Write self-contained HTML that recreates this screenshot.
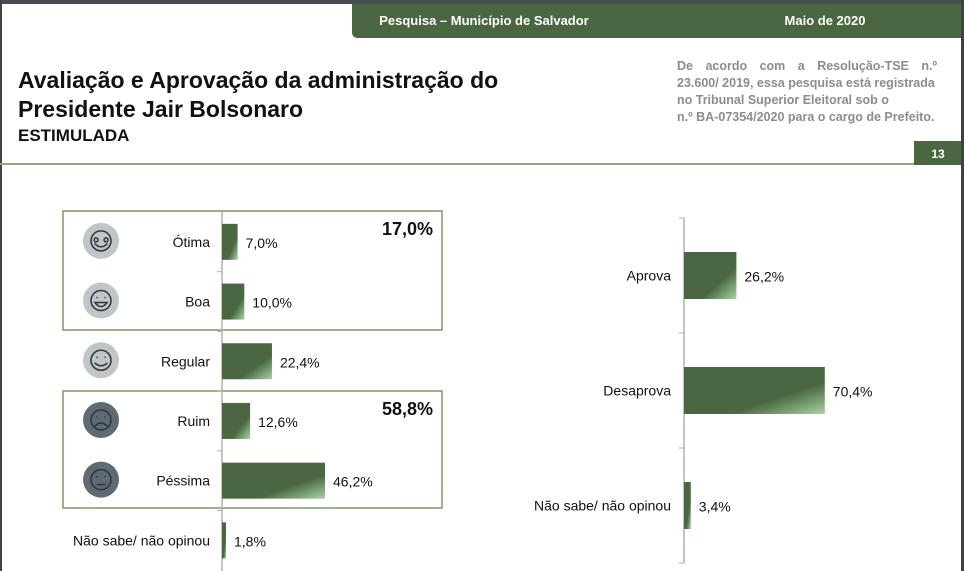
<!DOCTYPE html>
<html><head><meta charset="utf-8"><style>
html,body{margin:0;padding:0;background:#fff}
svg{display:block;font-family:"Liberation Sans",sans-serif}
</style></head><body>
<svg id="s" width="964" height="571" viewBox="0 0 964 571">
<defs>
<linearGradient id="g" x1="0" y1="0" x2="1" y2="1">
<stop offset="0" stop-color="#4a6741"/><stop offset="0.66" stop-color="#4a6741"/><stop offset="1" stop-color="#a8d3a2"/>
</linearGradient>
</defs>
<rect x="0" y="0" width="964" height="4" fill="#474c52"/>
<rect x="0" y="0" width="2" height="571" fill="#3c4248"/>
<rect x="961" y="0" width="3" height="571" fill="#3c4248"/>
<path d="M352 4 H961 V38 H358 Q352 38 352 32 Z" fill="#4a6741"/>
<text x="484" y="25" font-size="13" font-weight="bold" fill="#fff" text-anchor="middle">Pesquisa – Município de Salvador</text>
<text x="825" y="25" font-size="13" font-weight="bold" fill="#fff" text-anchor="middle">Maio de 2020</text>
<text x="18" y="88" font-size="23" font-weight="bold" fill="#111">Avaliação e Aprovação da administração do</text>
<text x="18" y="117" font-size="23" font-weight="bold" fill="#111">Presidente Jair Bolsonaro</text>
<text x="18" y="141" font-size="17" font-weight="bold" fill="#111">ESTIMULADA</text>
<g font-size="12.5" font-weight="bold" fill="#8c8c8c">
<text x="677" y="70" word-spacing="9">De acordo com a Resolução-TSE n.º</text>
<text x="677" y="87">23.600/ 2019, essa pesquisa está registrada</text>
<text x="677" y="104">no Tribunal Superior Eleitoral sob o</text>
<text x="677" y="121">n.º BA-07354/2020 para o cargo de Prefeito.</text>
</g>
<rect x="0" y="163" width="914" height="2" fill="#8fa47a"/>
<rect x="914" y="141" width="47" height="24" fill="#4a6741"/>
<text x="938" y="158" font-size="12" font-weight="bold" fill="#fff" text-anchor="middle">13</text>
<rect x="63" y="211" width="379" height="119" fill="none" stroke="#7a9a5c" stroke-width="1.5"/>
<rect x="63" y="391" width="379" height="117" fill="none" stroke="#7a9a5c" stroke-width="1.5"/>
<text x="433" y="235" font-size="18" font-weight="bold" fill="#111" text-anchor="end">17,0%</text>
<text x="433" y="415" font-size="18" font-weight="bold" fill="#111" text-anchor="end">58,8%</text>
<g id="left"></g>
<g id="right"></g>
</svg>
<script>
const leftCats=["Ótima","Boa","Regular","Ruim","Péssima","Não sabe/ não opinou"];
const leftVals=[7.0,10.0,22.4,12.6,46.2,1.8];
const leftLabels=["7,0%","10,0%","22,4%","12,6%","46,2%","1,8%"];
const rightCats=["Aprova","Desaprova","Não sabe/ não opinou"];
const rightVals=[26.2,70.4,3.4];
const rightLabels=["26,2%","70,4%","3,4%"];
const NS="http://www.w3.org/2000/svg";
function mk(p,t,a){const e=document.createElementNS(NS,t);for(const k in a)e.setAttribute(k,a[k]);p.appendChild(e);return e;}
const L=document.getElementById('left');
const lx0=222,lk=2.23,ly0=212,lstep=59.7,lbh=36;
const lxs=v=>lx0+v*lk, lyc=i=>ly0+lstep*(i+0.5);
let ax=mk(L,'line',{x1:lx0,y1:ly0,x2:lx0,y2:571,stroke:'#b0b0b0','stroke-width':1.5});


const faces=["M-5 -3 a2 2 0 1 0 .1 0 M5 -3 a2 2 0 1 0 .1 0 M-6 3 Q0 9 6 3","M-4 -3 h.1 M4 -3 h.1 M-6 2 Q0 10 6 2 Z","M-4 -3 h.1 M4 -3 h.1 M-6 3 Q0 8 6 3","M-4 -3 h.1 M4 -3 h.1 M-6 6 Q0 0 6 6","M-4 -3 h.1 M4 -3 h.1 M-4 5 h8"];
leftCats.forEach((c,i)=>{
  const y=lyc(i);
  if(i>0){const t=mk(L,'line',{x1:lx0-5,y1:ly0+lstep*i,x2:lx0,y2:ly0+lstep*i,stroke:'#b0b0b0'});
  
  }
  const b=mk(L,'rect',{x:lx0,y:y-lbh/2,width:lxs(leftVals[i])-lx0,height:lbh,fill:'url(#g)'});
  
  
  const v=mk(L,'text',{x:lxs(leftVals[i])+8,y:y+6,'font-size':14,fill:'#111'});v.textContent=leftLabels[i];
  
  
  const t=mk(L,'text',{x:210,y:y+5,'font-size':14,fill:'#111','text-anchor':'end'});t.textContent=c;
  
  
  if(i<5){
    const g=mk(L,'g',{transform:`translate(101,${y-1})`});
    
    
    mk(g,'circle',{r:18,fill:i<3?'#c0c5ca':'#5e6a74'});
    mk(g,'circle',{r:10,fill:'none',stroke:'#333','stroke-width':1.5});
    mk(g,'path',{d:faces[i],fill:'none',stroke:'#333','stroke-width':1.5,'stroke-linecap':'round'});
  }
});
const R=document.getElementById('right');
const rx0=684,rk=2.0,ry0=218,rstep=115,rbh=47;
const rxs=v=>rx0+v*rk, ryc=i=>ry0+rstep*(i+0.5);
ax=mk(R,'line',{x1:rx0,y1:ry0,x2:rx0,y2:ry0+rstep*3,stroke:'#b0b0b0','stroke-width':1.5});


for(let j=0;j<=3;j++){const t=mk(R,'line',{x1:rx0-5,y1:ry0+rstep*j,x2:rx0,y2:ry0+rstep*j,stroke:'#b0b0b0'});
  
  }
rightCats.forEach((c,i)=>{
  const y=ryc(i);
  const b=mk(R,'rect',{x:rx0,y:y-rbh/2,width:rxs(rightVals[i])-rx0,height:rbh,fill:'url(#g)'});
  
  
  const v=mk(R,'text',{x:rxs(rightVals[i])+8,y:y+6,'font-size':14,fill:'#111'});v.textContent=rightLabels[i];
  
  
  const t=mk(R,'text',{x:671,y:y+5,'font-size':14,fill:'#111','text-anchor':'end'});t.textContent=c;
  
  
});
</script>
</body></html>
